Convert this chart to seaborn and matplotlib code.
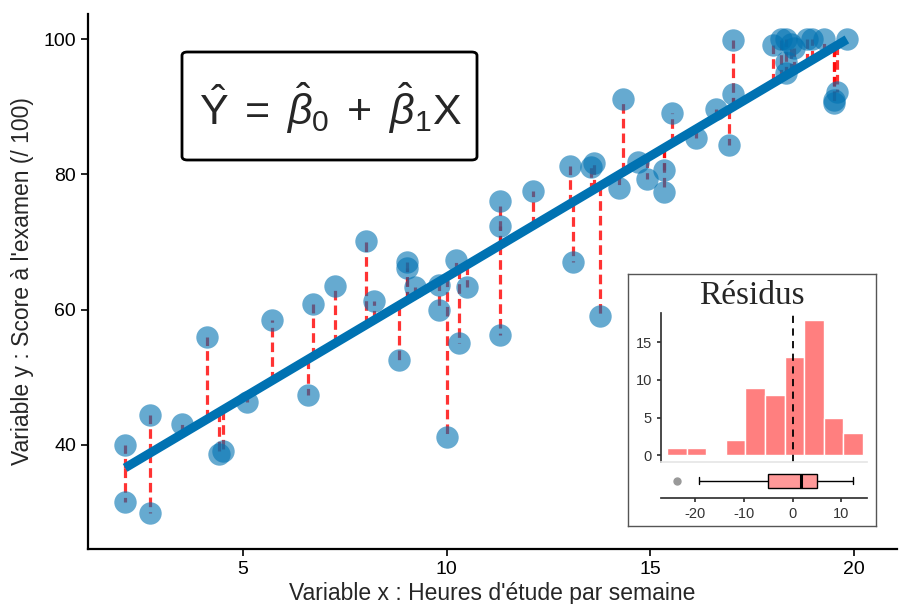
import numpy as np
import pandas as pd
import seaborn as sns
import matplotlib
matplotlib.use('Agg')
import matplotlib.pyplot as plt
from matplotlib.patches import FancyBboxPatch

# ---------------------------------------------------------------
#  Data
# ---------------------------------------------------------------
hours = [2.11, 2.11, 2.71, 2.71, 3.51, 4.11, 4.42, 4.52, 5.11, 5.72,
         6.61, 6.71, 7.25, 8.01, 8.21, 8.82, 9.02, 9.02, 9.23, 9.82,
         9.82, 10.02, 10.22, 10.31, 10.51, 11.31, 11.31, 11.31, 12.12, 13.02,
         13.11, 13.53, 13.62, 13.77, 14.22, 14.32, 14.70, 14.92, 15.33, 15.33,
         15.52, 16.12, 16.61, 16.93, 17.02, 17.03, 18.00, 18.20, 18.32, 18.32,
         18.32, 18.45, 18.52, 18.85, 18.97, 19.26, 19.50, 19.50, 19.59, 19.82]
scores = [40.0, 31.5, 44.4, 29.9, 43.1, 56.0, 38.6, 39.1, 46.4, 58.4,
          47.4, 60.8, 63.5, 70.1, 61.2, 52.5, 67.0, 66.2, 63.3, 63.6,
          60.0, 41.1, 67.4, 55.1, 63.3, 76.1, 72.3, 56.2, 77.6, 81.3,
          67.1, 81.1, 81.7, 59.0, 78.0, 91.2, 81.8, 79.3, 80.7, 77.4,
          89.1, 85.4, 89.7, 84.3, 99.85, 91.8, 99.1, 100.0, 100.0, 96.6,
          95.0, 99.3, 98.6, 100.0, 100.0, 100.0, 91.0, 90.5, 92.2, 100.0]

x_ticks = [5, 10, 15, 20]
y_ticks = [40, 60, 80, 100]
x_label = "Variable x : Heures d'étude par semaine"
y_label = "Variable y : Score à l'examen (/ 100)"
formula = r'$\hat{\mathrm{Y}}\;=\;\hat{\beta}_0\;+\;\hat{\beta}_1\mathrm{X}$'
inset_title = "Résidus"

df = pd.DataFrame({"x": hours, "y": scores})

# OLS fit -> residuals
slope, intercept = np.polyfit(df.x, df.y, 1)
df["fit"] = intercept + slope * df.x
df["resid"] = df.y - df.fit

BLUE = "#0072B2"

sns.set_theme(style="ticks")
plt.rcParams['font.family'] = ['Liberation Sans', 'DejaVu Sans']
plt.rcParams['mathtext.fontset'] = 'custom'
plt.rcParams['mathtext.rm'] = 'Liberation Sans'
plt.rcParams['mathtext.it'] = 'Liberation Sans:italic'
plt.rcParams['axes.unicode_minus'] = False

W, H = 899, 604
fig = plt.figure(figsize=(W / 100, H / 100), dpi=100)

def frac(x0, y0, x1, y1):
    # pixel box (top-left origin) -> figure fraction rect
    return [x0 / W, 1 - y1 / H, (x1 - x0) / W, (y1 - y0) / H]

# ---------------------------------------------------------------
#  Main scatter + regression
# ---------------------------------------------------------------
ax = fig.add_axes(frac(88, 14, 897, 549))
ax.vlines(df.x, df.fit, df.y, colors="red", alpha=0.8, linewidth=2.3,
          linestyles=(0, (3, 1.6)), zorder=1)
sns.regplot(data=df, x="x", y="y", ci=None, ax=ax,
            scatter_kws=dict(s=260, color=BLUE, alpha=0.6, linewidths=0, zorder=2),
            line_kws=dict(color=BLUE, linewidth=6.5, zorder=3, solid_capstyle='butt'))

ax.set_xlim(1.2, 21.05)
ax.set_ylim(24.6, 103.7)
ax.set_xticks(x_ticks)
ax.set_yticks(y_ticks)
ax.set_xlabel(x_label, fontsize=16.5, labelpad=3)
ax.set_ylabel(y_label, fontsize=16.5, labelpad=7)
ax.tick_params(labelsize=14, length=5, width=1.2, colors="black")
for s in ["top", "right"]:
    ax.spines[s].set_visible(False)
for s in ["left", "bottom"]:
    ax.spines[s].set_linewidth(1.6)
    ax.spines[s].set_color("black")

# formula box
fig.patches.append(FancyBboxPatch((182 / W, 1 - 160 / H), 295 / W, 108 / H,
                                  boxstyle="round,pad=0,rounding_size=0.006",
                                  transform=fig.transFigure, fc="white",
                                  ec="black", lw=2, zorder=5))
fig.text(330 / W, 1 - 108 / H, formula, fontsize=31, ha="center", va="center", zorder=6)

# ---------------------------------------------------------------
#  Inset: residual histogram + boxplot
# ---------------------------------------------------------------
frame = fig.add_axes(frac(628, 274, 876, 526))
frame.set_xticks([])
frame.set_yticks([])
for s in frame.spines.values():
    s.set_color("#555555")
    s.set_linewidth(1)
frame.text(0.5, 0.915, inset_title, transform=frame.transAxes, ha="center", va="center",
           fontsize=24, family="Liberation Serif")

r = df.resid.values
bw = (r.max() - r.min()) / 9
edges = np.linspace(r.min() - bw / 2, r.max() + bw / 2, 11)
xlim_in = (-27.1, 15.3)

axh = fig.add_axes(frac(661, 313, 867, 462))
sns.histplot(x=r, bins=edges, color="red", alpha=0.5, edgecolor="white",
             linewidth=1, ax=axh)
axh.axvline(0, color="black", linestyle=(0, (4, 3)), linewidth=1.3)
axh.set_xlim(xlim_in)
axh.set_ylim(-0.9, 18.9)
axh.set_yticks([0, 5, 10, 15])
axh.set_xticks([])
axh.set_xlabel("")
axh.set_ylabel("")
axh.tick_params(labelsize=10.5, length=3, colors="#333333")
axh.patch.set_alpha(0)
axh.spines["top"].set_visible(False)
axh.spines["right"].set_visible(False)
axh.spines["left"].set_color("#333333")
axh.spines["bottom"].set_color("#e6e6e6")

axb = fig.add_axes(frac(661, 463, 867, 498))
sns.boxplot(x=r, ax=axb, color="#ff9999", width=0.4, linecolor="black", linewidth=1,
            flierprops=dict(marker="o", markerfacecolor="#999999",
                            markeredgecolor="#999999", markersize=5),
            medianprops=dict(linewidth=2.2), saturation=1)
axb.set_xlim(xlim_in)
axb.set_ylim(0.5, -0.5)
axb.set_xticks([-20, -10, 0, 10])
axb.set_yticks([])
axb.tick_params(labelsize=10.5, length=3, colors="#333333")
axb.patch.set_alpha(0)
for s in ["top", "right", "left"]:
    axb.spines[s].set_visible(False)
axb.spines["bottom"].set_color("#333333")

fig.savefig("out.png", dpi=100)
